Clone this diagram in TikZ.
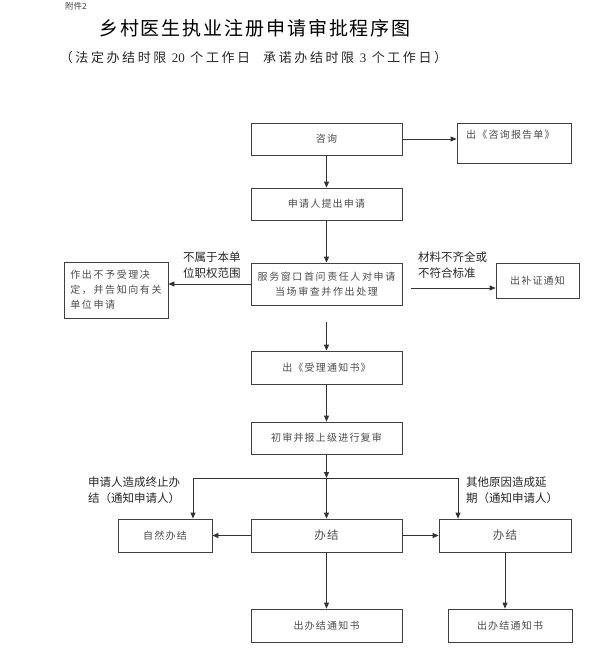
\documentclass[tikz,border=0pt]{standalone}
\usepackage{fontspec}
\setmainfont{Noto Sans CJK SC}
\newfontfamily\cjk{Noto Sans CJK SC}
\newfontfamily\cjksp[LetterSpace=12]{Noto Sans CJK SC}
\newfontfamily\cjkmid[LetterSpace=16]{Noto Sans CJK SC}
\newfontfamily\cjkwide[LetterSpace=20]{Noto Sans CJK SC}
\newfontfamily\titlefont[LetterSpace=10]{Noto Sans CJK SC}
\newfontfamily\serifdigits{Liberation Serif}
\usetikzlibrary{arrows.meta}
\begin{document}
\begin{tikzpicture}[x=1pt,y=-1pt,
  box/.style={draw=black!75, line width=0.8pt, minimum height=32pt, minimum width=151pt,
    inner sep=2pt, text=black!70, font=\cjksp\fontsize{10}{15}\selectfont, align=center},
  lbl/.style={font=\cjk\fontsize{11.5}{15.5}\selectfont, text=black!85, align=left, inner sep=0pt, anchor=north west},
  arr/.style={draw=black!80, line width=0.8pt, -{Triangle[length=6pt,width=5pt]}},
  ln/.style={draw=black!80, line width=0.8pt}]
\useasboundingbox (0,0) rectangle (593,648);

% titles
\node[font=\cjk\fontsize{8.5}{9}\selectfont, anchor=west, inner sep=0pt, text=black!75] (fj) at (65,6) {附件2};
\node[font=\titlefont\fontsize{19}{20}\selectfont] (title) at (255,28) {乡村医生执业注册申请审批程序图};
\node[font=\cjkwide\fontsize{13}{14}\selectfont, text=black!85] (sub) at (253.5,58)
  {（法定办结时限 {\serifdigits 20} 个工作日\quad 承诺办结时限 {\serifdigits 3} 个工作日）};

% boxes
\node[box] (zx) at (326.5,139) {咨询};
\node[box, minimum width=114pt, minimum height=40pt] (rep) at (514,143) {};
\node[font=\cjksp\fontsize{10}{15}\selectfont, text=black!70, anchor=west, inner sep=0pt] (reptext) at (466,135) {出《咨询报告单》};
\node[box] (sq) at (326.5,204) {申请人提出申请};
\node[box, minimum height=42pt, font=\cjkmid\fontsize{10}{15}\selectfont] (fw) at (326.5,284) {服务窗口首问责任人对申请\\当场审查并作出处理};
\node[box, minimum width=104pt, minimum height=56pt, align=left, font=\cjkmid\fontsize{10}{15}\selectfont] (bsl) at (116,290)
  {作出不予受理决\\定，并告知向有关\\单位申请};
\node[box, minimum width=83pt, minimum height=35pt] (bz) at (537.5,280.5) {出补证通知};
\node[box, minimum height=33pt] (sl) at (326.5,367.5) {出《受理通知书》};
\node[box] (cs) at (326.5,438) {初审并报上级进行复审};
\node[box, minimum width=94pt, minimum height=33pt] (zr) at (165,535.5) {自然办结};
\node[box, minimum height=33pt, font=\cjksp\fontsize{11.5}{15}\selectfont] (bj) at (326.5,535.5) {办结};
\node[box, minimum width=132pt, minimum height=33pt, font=\cjksp\fontsize{11.5}{15}\selectfont] (bjr) at (505,535.5) {办结};
\node[box, minimum height=33pt] (tz1) at (326.5,625.5) {出办结通知书};
\node[box, minimum width=124pt, minimum height=33pt] (tz2) at (510,625.5) {出办结通知书};

% labels
\node[lbl] (l1) at (183,252) {不属于本单\\位职权范围};
\node[lbl] (l2) at (418,252) {材料不齐全或\\不符合标准};
\node[lbl] (l3) at (88,477) {申请人造成终止办\\结（通知申请人）};
\node[lbl] (l4) at (466,477) {其他原因造成延\\期（通知申请人）};

% connectors
\coordinate (rs) at (411,288);
\coordinate (ds) at (326.5,322);
\coordinate (jn) at (326.5,478);
\coordinate (jl) at (193,478);
\coordinate (jr) at (458,478);

\draw[arr] (zx.east) -- (zx.east -| rep.west);
\draw[arr] (zx.south) -- (sq.north);
\draw[arr] (sq.south) -- (fw.north);
\draw[arr] (fw.west) -- (fw.west -| bsl.east);
\draw[arr] (rs) -- (rs -| bz.west);
\draw[arr] (ds) -- (sl.north);
\draw[arr] (sl.south) -- (cs.north);
\draw[arr] (cs.south) -- (jn);
\draw[ln] (jl) -- (jr);
\draw[arr] (jn) -- (bj.north);
\draw[arr] (jl) -- (jl |- zr.north);
\draw[arr] (jr) -- (jr |- bjr.north);
\draw[arr] (bj.west) -- (bj.west -| zr.east);
\draw[arr] (bj.east) -- (bj.east -| bjr.west);
\draw[arr] (bj.south) -- (tz1.north);
\draw[arr] (bjr.south) -- (bjr.south |- tz2.north);
\end{tikzpicture}
\end{document}
